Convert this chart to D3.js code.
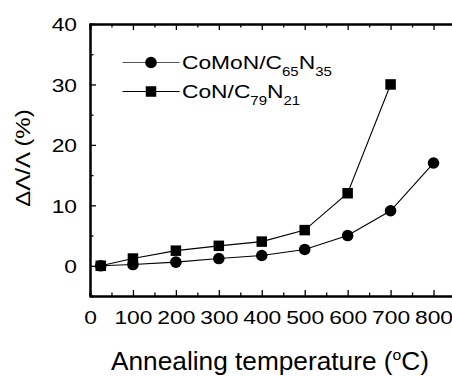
<!DOCTYPE html>
<html>
<head>
<meta charset="utf-8">
<script src="https://cdn.jsdelivr.net/npm/d3@7"></script>
<style>
    html, body { margin: 0; padding: 0; background: #fff; }
    svg text { font-family: "Liberation Sans", Arial, Helvetica, sans-serif; fill: #000; }
</style>
</head>
<body>
<div id="chart"></div>
<script>
/* Annealing stability chart */

// Data
const comonTemps = [25, 100, 200, 300, 400, 500, 600, 700, 800];
const comonValues = [0, 0.2, 0.6, 1.2, 1.7, 2.7, 5.0, 9.1, 17.0];
const conTemps = [25, 100, 200, 300, 400, 500, 600, 700];
const conValues = [0, 1.2, 2.5, 3.3, 4.0, 5.9, 12.0, 30.0];

const xMajorTicks = [0, 100, 200, 300, 400, 500, 600, 700, 800];
const xMinorTicks = [50, 150, 250, 350, 450, 550, 650, 750];
const yMajorTicks = [0, 10, 20, 30, 40];
const yMinorTicks = [5, 15, 25, 35];

const seriesNames = [
    { base: 'CoMoN/C', sub1: '65', mid: 'N', sub2: '35' },
    { base: 'CoN/C', sub1: '79', mid: 'N', sub2: '21' }
];

const STRETCH = 1.2;   // fonts in the figure are drawn wide

function drawChart() {
    const width = 452, height = 376;

    const svg = d3.select('#chart').append('svg')
        .attr('width', width)
        .attr('height', height);

    const x = d3.scaleLinear().domain([0, 850]).range([90, 455]);
    const y = d3.scaleLinear().domain([-5, 40]).range([296, 24]);

    // Minor ticks (bottom, top, left)
    svg.append('g')
        .attr('transform', `translate(0,${y(-5)})`)
        .call(d3.axisBottom(x).tickValues(xMinorTicks).tickSize(-3.5).tickFormat(''));
    svg.append('g')
        .attr('transform', `translate(0,${y(40)})`)
        .call(d3.axisTop(x).tickValues(xMinorTicks).tickSize(-3.5).tickFormat(''));
    svg.append('g')
        .attr('transform', `translate(${x(0)},0)`)
        .call(d3.axisLeft(y).tickValues(yMinorTicks).tickSize(-3.5).tickFormat(''));

    // Top axis (major, no labels)
    svg.append('g')
        .attr('transform', `translate(0,${y(40)})`)
        .call(d3.axisTop(x).tickValues(xMajorTicks).tickSize(-6).tickFormat(''));

    // Bottom axis
    const xAxis = svg.append('g')
        .attr('class', 'x-axis')
        .attr('transform', `translate(0,${y(-5)})`)
        .call(d3.axisBottom(x).tickValues(xMajorTicks).tickSize(-6).tickSizeOuter(0));
    xAxis.selectAll('text')
        .attr('y', 0).attr('dy', 0)
        .attr('transform', `translate(0,27.5) scale(${STRETCH},1)`)
        .attr('font-size', 19);

    // Left axis
    const yAxis = svg.append('g')
        .attr('class', 'y-axis')
        .attr('transform', `translate(${x(0)},0)`)
        .call(d3.axisLeft(y).tickValues(yMajorTicks).tickSize(-6).tickSizeOuter(0));
    yAxis.selectAll('text')
        .attr('x', 0).attr('dy', '0.36em')
        .attr('transform', `translate(-13,0) scale(${STRETCH},1)`)
        .attr('font-size', 19);

    svg.selectAll('.domain, .tick line')
        .attr('stroke', '#000');
    svg.selectAll('.domain').attr('stroke-width', 2);
    svg.selectAll('.tick line').attr('stroke-width', 1.3);
    svg.selectAll('.tick text').attr('fill', '#000').attr('font-family', null);

    // Lines
    const line = d3.line()
        .x(d => x(d[0]))
        .y(d => y(d[1]));

    const comonPoints = comonTemps.map((t, i) => [t, comonValues[i]]);
    const conPoints = conTemps.map((t, i) => [t, conValues[i]]);

    svg.append('path')
        .datum(conPoints)
        .attr('d', line)
        .attr('fill', 'none')
        .attr('stroke', '#000')
        .attr('stroke-width', 1.1);

    svg.append('path')
        .datum(comonPoints)
        .attr('d', line)
        .attr('fill', 'none')
        .attr('stroke', '#000')
        .attr('stroke-width', 1.1);

    // Markers
    svg.selectAll('.pt-comon')
        .data(comonPoints)
        .join('circle')
        .attr('class', 'pt-comon')
        .attr('cx', d => x(d[0]))
        .attr('cy', d => y(d[1]))
        .attr('r', 5.8)
        .attr('fill', '#000');

    const sq = 10.5;
    svg.selectAll('.pt-con')
        .data(conPoints)
        .join('rect')
        .attr('class', 'pt-con')
        .attr('x', d => x(d[0]) - sq / 2)
        .attr('y', d => y(d[1]) - sq / 2)
        .attr('width', sq)
        .attr('height', sq)
        .attr('fill', '#000');

    // Legend
    const legend = svg.append('g').attr('class', 'legend');
    const rowY = [62.5, 91.5];
    seriesNames.forEach((s, i) => {
        const row = legend.append('g').attr('transform', `translate(0,${rowY[i]})`);
        row.append('line')
            .attr('x1', 122.5).attr('x2', 179.5)
            .attr('y1', 0).attr('y2', 0)
            .attr('stroke', i === 0 ? '#555' : '#000')
            .attr('stroke-width', 1.1);
        if (i === 0) {
            row.append('circle').attr('cx', 151).attr('cy', 0).attr('r', 5.8).attr('fill', '#000');
        } else {
            row.append('rect').attr('x', 151 - sq / 2).attr('y', -sq / 2)
                .attr('width', sq).attr('height', sq).attr('fill', '#000');
        }
        const t = row.append('text')
            .attr('transform', `translate(182,6.5) scale(${STRETCH},1)`)
            .attr('font-size', 19);
        t.append('tspan').text(s.base);
        t.append('tspan').attr('font-size', 12.5).attr('dy', 6.5).text(s.sub1);
        t.append('tspan').attr('font-size', 19).attr('dy', -6.5).text(s.mid);
        t.append('tspan').attr('font-size', 12.5).attr('dy', 6.5).text(s.sub2);
    });

    // Axis titles
    const xt = svg.append('text')
        .attr('text-anchor', 'middle')
        .attr('transform', 'translate(270,370) scale(1.05,1)')
        .attr('font-size', 25);
    xt.append('tspan').text('Annealing temperature (');
    xt.append('tspan').attr('font-size', 15).attr('dy', -10).text('o');
    xt.append('tspan').attr('dy', 10).text('C)');

    svg.append('text')
        .attr('text-anchor', 'middle')
        .attr('transform', `translate(30,158) rotate(-90) scale(${STRETCH},1)`)
        .attr('font-size', 20)
        .text('ΔΛ/Λ (%)');
}

drawChart();
</script>
</body>
</html>
